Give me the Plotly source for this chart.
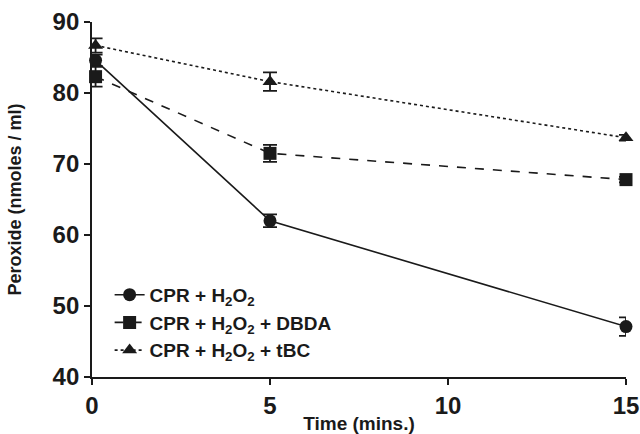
import plotly.graph_objects as go

time = [0.1, 5, 15]
cpr = [84.6, 62.0, 47.1]
cpr_err = [0.8, 0.9, 1.3]
dbda = [82.3, 71.5, 67.8]
dbda_err = [1.4, 1.2, 0.4]
tbc = [86.7, 81.6, 73.7]
tbc_err = [1.0, 1.3, 0.4]

names = ["CPR + H<sub>2</sub>O<sub>2</sub>",
         "CPR + H<sub>2</sub>O<sub>2</sub> + DBDA",
         "CPR + H<sub>2</sub>O<sub>2</sub> + tBC"]

fig = go.Figure()
series = [(cpr, cpr_err, "circle", "solid", names[0], 13),
          (dbda, dbda_err, "square", "dash", names[1], 13),
          (tbc, tbc_err, "triangle-up", "dot", names[2], 13)]
for vals, err, sym, dash, name, sz in series:
    fig.add_trace(go.Scatter(
        x=time, y=vals, name=name, mode="lines+markers",
        line=dict(color="#1a1a1a", width=1.6, dash=dash),
        marker=dict(symbol=sym, size=sz, color="#1a1a1a"),
        error_y=dict(type="data", array=err, visible=True, color="#1a1a1a", thickness=1.8, width=7),
        cliponaxis=False,
    ))

font = "Liberation Sans, Arial, sans-serif"
fig.update_layout(
    width=640, height=434,
    margin=dict(l=92, r=14, t=22, b=57),
    paper_bgcolor="white", plot_bgcolor="white",
    font=dict(family=font, color="#1a1a1a"),
    legend=dict(x=0.033, y=0.285, xanchor="left", yanchor="top",
                font=dict(size=19, family=font, color="#1a1a1a", weight="bold"),
                bgcolor="rgba(0,0,0,0)", tracegroupgap=0, itemwidth=30),
    xaxis=dict(range=[0, 15], tickvals=[0, 5, 10, 15], showgrid=False, zeroline=False,
               automargin=False,
               showline=True, linecolor="#1a1a1a", linewidth=1.8,
               ticks="outside", ticklen=6, tickwidth=1.8, tickcolor="#1a1a1a",
               tickfont=dict(size=24, family=font, weight="bold"),
               title=dict(text="Time (mins.)", font=dict(size=19, weight="bold"), standoff=2)),
    yaxis=dict(range=[40, 90], tickvals=[40, 50, 60, 70, 80, 90], showgrid=False, zeroline=False,
               automargin=False,
               showline=True, linecolor="#1a1a1a", linewidth=1.8,
               ticks="outside", ticklen=6, tickwidth=1.8, tickcolor="#1a1a1a",
               tickfont=dict(size=24, family=font, weight="bold"),
               title=dict(text="Peroxide (nmoles / ml)", font=dict(size=18, weight="bold"), standoff=26)),
)
fig.write_html("out.html")
